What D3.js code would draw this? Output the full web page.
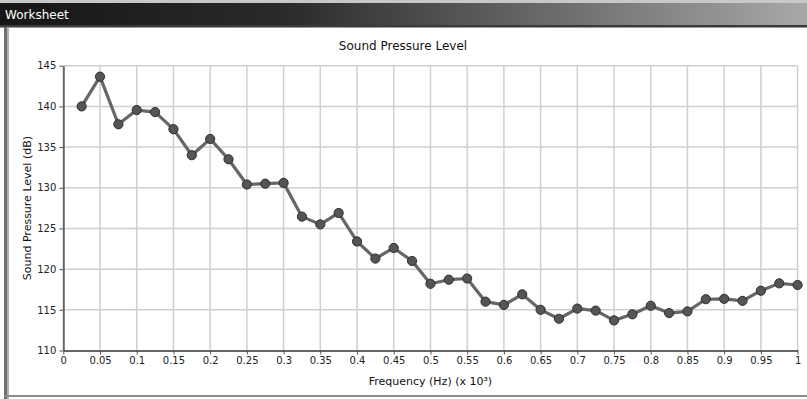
<!DOCTYPE html>
<html>
<head>
<meta charset="utf-8">
<script src="https://cdn.jsdelivr.net/npm/d3@7"></script>
<style>
  html, body { margin: 0; padding: 0; background: #fff; }
  svg { display: block; }
</style>
</head>
<body>
<svg id="chart" width="807" height="399"></svg>
<script>
const frequencies = [0.025,0.05,0.075,0.1,0.125,0.15,0.175,0.2,0.225,0.25,0.275,0.3,0.325,0.35,0.375,0.4,0.425,0.45,0.475,0.5,0.525,0.55,0.575,0.6,0.625,0.65,0.675,0.7,0.725,0.75,0.775,0.8,0.825,0.85,0.875,0.9,0.925,0.95,0.975,1.0];
const splValues = [140.0,143.65,137.8,139.55,139.3,137.2,134.0,136.0,133.5,130.4,130.5,130.6,126.45,125.5,126.9,123.4,121.3,122.6,121.0,118.2,118.7,118.85,116.0,115.6,116.9,115.0,113.9,115.15,114.9,113.7,114.45,115.5,114.6,114.8,116.3,116.35,116.1,117.35,118.25,118.05];
const xTicks = [0,0.05,0.1,0.15,0.2,0.25,0.3,0.35,0.4,0.45,0.5,0.55,0.6,0.65,0.7,0.75,0.8,0.85,0.9,0.95,1];
const yTicks = [110,115,120,125,130,135,140,145];
const windowTitle = "Worksheet";
const chartTitle = "Sound Pressure Level";
const xLabel = "Frequency (Hz) (x 10³)";
const yLabel = "Sound Pressure Level (dB)";

const svg = d3.select("#chart");
const W = 807, H = 399;
const font = "DejaVu Sans, sans-serif";

// window chrome
const defs = svg.append("defs");
const grad = defs.append("linearGradient").attr("id","bar").attr("x1","0").attr("x2","1").attr("y1","0").attr("y2","0");
grad.append("stop").attr("offset","0").attr("stop-color","#161616");
grad.append("stop").attr("offset","0.35").attr("stop-color","#2a2a2a");
grad.append("stop").attr("offset","1").attr("stop-color","#a8a8a8");

svg.append("rect").attr("x",0).attr("y",0).attr("width",W).attr("height",H).attr("fill","#fff");
svg.append("rect").attr("x",0).attr("y",0).attr("width",W).attr("height",3).attr("fill","#c8c8c8");
svg.append("rect").attr("x",0).attr("y",3).attr("width",W).attr("height",22).attr("fill","url(#bar)");
svg.append("rect").attr("x",0).attr("y",25).attr("width",W).attr("height",2).attr("fill","#3a3a3a");
svg.append("rect").attr("x",0).attr("y",27).attr("width",W).attr("height",1).attr("fill","#9a9a9a");
svg.append("text").attr("x",5).attr("y",19).attr("fill","#fff")
  .attr("font-family","Tahoma, DejaVu Sans, sans-serif").attr("font-size",12).text(windowTitle);
// left border
svg.append("rect").attr("x",4).attr("y",27).attr("width",3).attr("height",372).attr("fill","#707070");
svg.append("rect").attr("x",7).attr("y",27).attr("width",2).attr("height",372).attr("fill","#b0b0b0");
// bottom border
svg.append("rect").attr("x",4).attr("y",395).attr("width",W).attr("height",2).attr("fill","#8a8a8a");

const m = {left: 63.3, right: 797.6, top: 65.7, bottom: 350.5};
const x = d3.scaleLinear().domain([0,1]).range([m.left, m.right]);
const y = d3.scaleLinear().domain([110,145]).range([m.bottom, m.top]);

// grid
const g = svg.append("g");
g.selectAll(".vg").data(xTicks.slice(1)).enter().append("line")
  .attr("x1",d=>x(d)).attr("x2",d=>x(d)).attr("y1",m.top).attr("y2",m.bottom)
  .attr("stroke","#cfcfcf").attr("stroke-width",1.5);
g.selectAll(".hg").data(yTicks.slice(1)).enter().append("line")
  .attr("x1",m.left).attr("x2",m.right).attr("y1",d=>y(d)).attr("y2",d=>y(d))
  .attr("stroke","#cfcfcf").attr("stroke-width",1.5);

// axes
const fmt = d => d3.format("~g")(d);
const xAxis = svg.append("g").attr("transform",`translate(0,${m.bottom})`)
  .call(d3.axisBottom(x).tickValues(xTicks).tickFormat(fmt).tickSizeInner(4).tickSizeOuter(0).tickPadding(2));
const yAxis = svg.append("g").attr("transform",`translate(${m.left},0)`)
  .call(d3.axisLeft(y).tickValues(yTicks).tickFormat(fmt).tickSizeInner(4).tickSizeOuter(0).tickPadding(3));
[xAxis, yAxis].forEach(a => {
  a.select(".domain").attr("stroke","#666").attr("stroke-width",2);
  a.selectAll(".tick line").attr("stroke","#555");
  a.selectAll("text").attr("font-family",font).attr("font-size",10).attr("fill","#222");
});

// line
const data = frequencies.map((f,i)=>({f, v: splValues[i]}));
svg.append("path").datum(data)
  .attr("d", d3.line().x(d=>x(d.f)).y(d=>y(d.v)))
  .attr("fill","none").attr("stroke","#666").attr("stroke-width",3.2).attr("stroke-linejoin","round");
svg.selectAll(".pt").data(data).enter().append("circle")
  .attr("cx",d=>x(d.f)).attr("cy",d=>y(d.v)).attr("r",4.6)
  .attr("fill","#555").attr("stroke","#2e2e2e").attr("stroke-width",1);

// titles
svg.append("text").attr("x",403).attr("y",50).attr("text-anchor","middle")
  .attr("font-family",font).attr("font-size",12).attr("fill","#111").text(chartTitle);
svg.append("text").attr("x",(m.left+m.right)/2).attr("y",385).attr("text-anchor","middle")
  .attr("font-family",font).attr("font-size",11).attr("fill","#111").text(xLabel);
svg.append("text").attr("transform",`translate(31,${(m.top+m.bottom)/2}) rotate(-90)`).attr("text-anchor","middle")
  .attr("font-family",font).attr("font-size",11).attr("fill","#111").text(yLabel);
</script>
</body>
</html>
